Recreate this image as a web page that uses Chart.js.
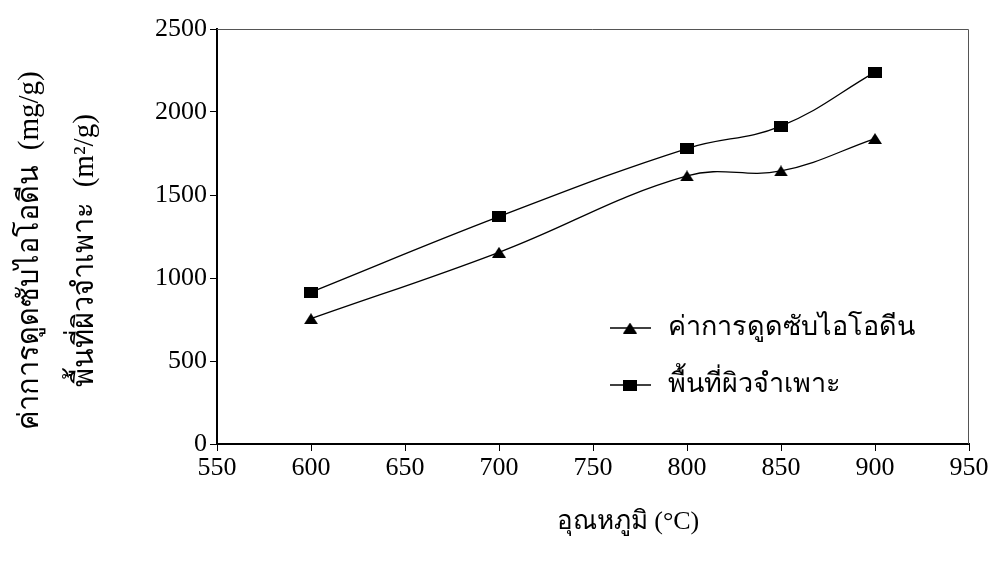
<!DOCTYPE html>
<html>
<head>
<meta charset="utf-8">
<script src="https://cdn.jsdelivr.net/npm/chart.js@4/dist/chart.umd.min.js"></script>
<style>
  html, body { margin: 0; padding: 0; background: #fff; }
  #wrap { width: 996px; height: 563px; }
</style>
</head>
<body>
<div id="wrap"><canvas id="c" width="996" height="563"></canvas></div>
<script>
// Activation temperature (°C)
const temperatures = [600, 700, 800, 850, 900];
// Iodine adsorption (mg/g)
const iodineAdsorption = [755, 1155, 1615, 1645, 1840];
// Specific surface area (m²/g)
const surfaceArea = [915, 1370, 1780, 1915, 2240];

const xTickValues = [550, 600, 650, 700, 750, 800, 850, 900, 950];
const yTickValues = [0, 500, 1000, 1500, 2000, 2500];

const seriesNames = ['ค่าการดูดซับไอโอดีน', 'พื้นที่ผิวจำเพาะ'];
const yTitleLines = ['ค่าการดูดซับไอโอดีน  (mg/g)', 'พื้นที่ผิวจำเพาะ  (m²/g)'];
const xTitle = 'อุณหภูมิ (°C)';

const FONT = '"Liberation Serif", "Times New Roman", serif';

// Slightly wide filled markers
function makeMarker(kind, w, h) {
  const c = document.createElement('canvas');
  c.width = w; c.height = h;
  const g = c.getContext('2d');
  g.fillStyle = '#000';
  if (kind === 'rect') {
    g.fillRect(0, 0, w, h);
  } else {
    g.beginPath();
    g.moveTo(w / 2, 0);
    g.lineTo(w, h);
    g.lineTo(0, h);
    g.closePath();
    g.fill();
  }
  return c;
}
const triMarker = makeMarker('tri', 14, 11);
const rectMarker = makeMarker('rect', 14, 11);

function toPoints(xs, ys) {
  return xs.map((x, i) => ({ x: x, y: ys[i] }));
}

// Thin frame on top/right, axis titles and the in-plot legend
const decorations = {
  id: 'decorations',
  afterDraw(chart) {
    const ctx = chart.ctx;
    const a = chart.chartArea;
    ctx.save();
    // top and right frame lines
    ctx.strokeStyle = '#555';
    ctx.lineWidth = 1;
    ctx.beginPath();
    ctx.moveTo(a.left, a.top + 0.5);
    ctx.lineTo(a.right - 0.5, a.top + 0.5);
    ctx.lineTo(a.right - 0.5, a.bottom);
    ctx.stroke();

    ctx.fillStyle = '#000';
    ctx.textAlign = 'center';
    ctx.textBaseline = 'middle';

    // y-axis title (two rotated lines)
    const cy = (a.top + a.bottom) / 2 + 14;
    ctx.font = '29px ' + FONT;
    [[30, yTitleLines[0]], [85, yTitleLines[1]]].forEach(([x, t]) => {
      ctx.save();
      ctx.translate(x, cy);
      ctx.rotate(-Math.PI / 2);
      ctx.fillText(t, 0, 0);
      ctx.restore();
    });

    // x-axis title
    ctx.font = '26px ' + FONT;
    ctx.fillText(xTitle, (a.left + a.right) / 2 + 35, 522);

    // legend inside the plot
    const rows = [328, 385];
    chart.data.datasets.forEach((ds, i) => {
      const y = rows[i];
      ctx.strokeStyle = ds.borderColor;
      ctx.lineWidth = ds.borderWidth;
      ctx.beginPath();
      ctx.moveTo(610, y);
      ctx.lineTo(651, y);
      ctx.stroke();
      const m = ds.pointStyle;
      ctx.drawImage(m, 630 - m.width / 2, y - m.height / 2);
      ctx.textAlign = 'left';
      ctx.font = '27px ' + FONT;
      ctx.fillText(ds.label, 668, y);
    });
    ctx.restore();
  }
};

new Chart(document.getElementById('c'), {
  type: 'line',
  data: {
    datasets: [
      {
        label: seriesNames[0],
        data: toPoints(temperatures, iodineAdsorption),
        borderColor: '#000',
        borderWidth: 1.3,
        pointStyle: triMarker,
        tension: 0.4,
        fill: false
      },
      {
        label: seriesNames[1],
        data: toPoints(temperatures, surfaceArea),
        borderColor: '#000',
        borderWidth: 1.3,
        pointStyle: rectMarker,
        tension: 0.4,
        fill: false
      }
    ]
  },
  options: {
    responsive: false,
    animation: false,
    devicePixelRatio: 1,
    layout: { padding: { left: 0, top: 29, right: 27, bottom: 0 } },
    plugins: {
      legend: { display: false },
      tooltip: { enabled: false }
    },
    scales: {
      x: {
        type: 'linear',
        min: xTickValues[0],
        max: xTickValues[xTickValues.length - 1],
        afterBuildTicks(scale) { scale.ticks = xTickValues.map(v => ({ value: v })); },
        afterFit(scale) { scale.height = 119; },
        ticks: { color: '#000', font: { family: FONT, size: 26 }, padding: 2, maxRotation: 0,
                 callback: v => String(v) },
        grid: { drawOnChartArea: false, tickLength: 7, tickColor: '#000', tickWidth: 1 },
        border: { color: '#000', width: 2 }
      },
      y: {
        min: yTickValues[0],
        max: yTickValues[yTickValues.length - 1],
        afterBuildTicks(scale) { scale.ticks = yTickValues.map(v => ({ value: v })); },
        afterFit(scale) { scale.width = 217; },
        ticks: { color: '#000', font: { family: FONT, size: 26 }, padding: 3,
                 callback: v => String(v) },
        grid: { drawOnChartArea: false, tickLength: 7, tickColor: '#000', tickWidth: 1 },
        border: { color: '#000', width: 2 }
      }
    }
  },
  plugins: [decorations]
});
</script>
</body>
</html>
